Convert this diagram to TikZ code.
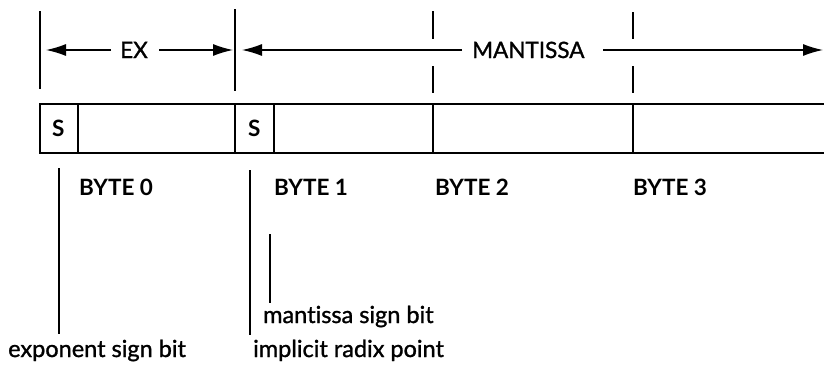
\documentclass[tikz,border=0pt]{standalone}
\usepackage{fontspec}
\setmainfont[Ligatures=NoCommon]{Lato}
\newfontfamily\medf[FakeBold=1.2,Ligatures=NoCommon]{Lato}
\usetikzlibrary{arrows.meta}
\begin{document}
\begin{tikzpicture}[x=1pt,y=-1pt,
  ln/.style={line width=1.3pt},
  arr/.style={line width=1.3pt,-{Latex[length=20pt,width=12pt]}},
  toplbl/.style={font=\medf\fontsize{22.5}{22.5}\selectfont, inner sep=0pt, anchor=base west},
  bytel/.style={font=\bfseries\fontsize{22.5}{22.5}\selectfont, inner sep=0pt, anchor=base west},
  note/.style={font=\medf\fontsize{23.5}{23.5}\selectfont, inner sep=0pt, anchor=base west}]
\useasboundingbox (0,0) rectangle (824,364);
% top verticals
\coordinate (v0t) at (40,11); \coordinate (v0b) at (40,89);
\coordinate (v1t) at (235,9); \coordinate (v1b) at (235,91);
\draw[ln] (v0t) -- (v0b);
\draw[ln] (v1t) -- (v1b);
\coordinate (v2a) at (433,11); \coordinate (v2b) at (433,39);
\coordinate (v2c) at (433,66); \coordinate (v2d) at (433,93);
\coordinate (v3a) at (633,12); \coordinate (v3b) at (633,39);
\coordinate (v3c) at (633,66); \coordinate (v3d) at (633,93);
\draw[ln] (v2a) -- (v2b) (v2c) -- (v2d);
\draw[ln] (v3a) -- (v3b) (v3c) -- (v3d);
% EX
\node[toplbl] (ex) at (120,58) {EX};
\coordinate (exL) at (46,50); \coordinate (exR) at (233,50);
\coordinate (exLs) at (111,50); \coordinate (exRs) at (159,50);
\draw[arr] (exLs) -- (exL);
\draw[arr] (exRs) -- (exR);
% MANTISSA
\node[toplbl] (man) at (472,58) {MANTISSA};
\coordinate (mL) at (242,50); \coordinate (mR) at (823,50);
\coordinate (mLs) at (462,50); \coordinate (mRs) at (603,50);
\draw[arr] (mLs) -- (mL);
\draw[arr] (mRs) -- (mR);
% register box
\coordinate (bTL) at (40,104); \coordinate (bBL) at (40,153);
\coordinate (bTR) at (824,104); \coordinate (bBR) at (824,153);
\draw[ln] (bTR) -- (bTL) -- (bBL) -- (bBR);
\foreach \x in {78,235,274,433,633} \draw[ln] (\x,104) -- (\x,153);
\node[bytel] (s0) at (52,136) {S};
\node[bytel] (s1) at (248,136) {S};
% byte labels
\node[bytel] (b0) at (79,195) {BYTE 0};
\node[bytel] (b1) at (274,195) {BYTE 1};
\node[bytel] (b2) at (435,195) {BYTE 2};
\node[bytel] (b3) at (633,195) {BYTE 3};
% pointer lines
\coordinate (p0t) at (59,168); \coordinate (p0b) at (59,334);
\coordinate (p1t) at (250,170); \coordinate (p1b) at (250,335);
\coordinate (p2t) at (270,234); \coordinate (p2b) at (270,303);
\draw[ln] (p0t) -- (p0b);
\draw[ln] (p1t) -- (p1b);
\draw[ln] (p2t) -- (p2b);
\node[note] (ms) at (263,323) {mantissa sign bit};
\node[note] (es) at (8,357) {exponent sign bit};
\node[note] (ir) at (253,357) {implicit radix point};
\end{tikzpicture}
\end{document}
